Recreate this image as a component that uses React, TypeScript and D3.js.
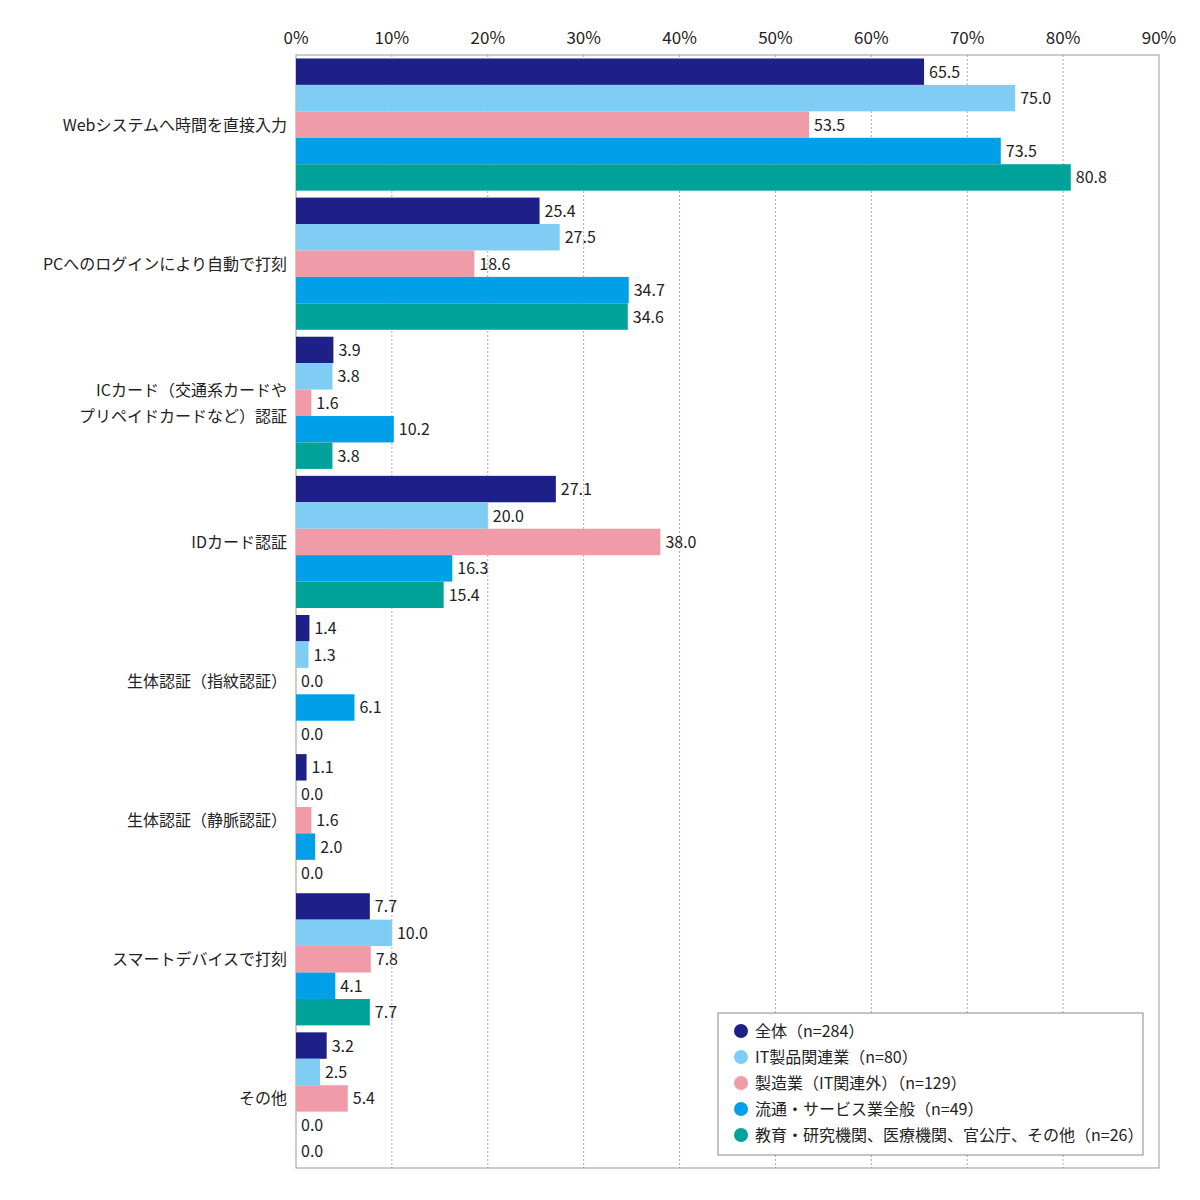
import * as d3 from "d3";

const categories = [
  ["Webシステムへ時間を直接入力"],
  ["PCへのログインにより自動で打刻"],
  ["ICカード（交通系カードや", "プリペイドカードなど）認証"],
  ["IDカード認証"],
  ["生体認証（指紋認証）"],
  ["生体認証（静脈認証）"],
  ["スマートデバイスで打刻"],
  ["その他"],
];
const seriesNames = [
  "全体（n=284）",
  "IT製品関連業（n=80）",
  "製造業（IT関連外）（n=129）",
  "流通・サービス業全般（n=49）",
  "教育・研究機関、医療機関、官公庁、その他（n=26）",
];
const colors = ["#1d2087", "#7fccf4", "#f09ca8", "#00a0e9", "#00a29a"];
const values = [
  [65.5, 25.4, 3.9, 27.1, 1.4, 1.1, 7.7, 3.2],
  [75.0, 27.5, 3.8, 20.0, 1.3, 0.0, 10.0, 2.5],
  [53.5, 18.6, 1.6, 38.0, 0.0, 1.6, 7.8, 5.4],
  [73.5, 34.7, 10.2, 16.3, 6.1, 2.0, 4.1, 0.0],
  [80.8, 34.6, 3.8, 15.4, 0.0, 0.0, 7.7, 0.0],
];
const ticks = [0, 10, 20, 30, 40, 50, 60, 70, 80, 90];

export default function App() {
  const left = 296, right = 1159, top = 55, bottom = 1168;
  const x = d3.scaleLinear().domain([0, 90]).range([left, right]);
  const y = d3.scaleBand().domain(categories.map((_, i) => String(i))).range([top, bottom]).paddingInner(0.05).paddingOuter(0.025);
  const inner = d3.scaleBand().domain(seriesNames.map((_, i) => String(i))).range([0, y.bandwidth()]);
  const font = "'Noto Sans CJK JP', 'Noto Sans', sans-serif";
  return (
    <svg width={1200} height={1200} style={{ position: "absolute", left: 0, top: 0 }} fontFamily={font}>
      <rect width={1200} height={1200} fill="#fff" />
      {ticks.map((t) => (
        <g key={t}>
          {t > 0 && t < 90 && (
            <line x1={x(t)} x2={x(t)} y1={top} y2={bottom} stroke="#aaa" strokeDasharray="2,2" />
          )}
          <text x={x(t)} y={44} textAnchor="middle" fontSize={17} fill="#222">{t}%</text>
        </g>
      ))}
      <rect x={left} y={top} width={right - left} height={bottom - top} fill="none" stroke="#999" />
      {categories.map((lines, ci) => {
        const cy = (y(String(ci)) as number) + y.bandwidth() / 2;
        return (
          <text key={ci} x={287} y={cy - (lines.length - 1) * 13 + 6} textAnchor="end" fontSize={16} fill="#222">
            {lines.map((l, k) => (
              <tspan key={k} x={287} dy={k === 0 ? 0 : 26}>{l}</tspan>
            ))}
          </text>
        );
      })}
      {values.map((row, si) =>
        row.map((v, ci) => {
          const by = (y(String(ci)) as number) + (inner(String(si)) as number);
          const h = inner.bandwidth();
          return (
            <g key={`${si}-${ci}`}>
              <rect x={left} y={by} width={x(v) - left} height={h} fill={colors[si]} />
              <text x={x(v) + 5} y={by + h / 2 + 6} fontSize={16} fill="#222">{v.toFixed(1)}</text>
            </g>
          );
        })
      )}
      <rect x={718} y={1013} width={425} height={142} fill="#fff" stroke="#888" />
      {seriesNames.map((n, i) => (
        <g key={n}>
          <circle cx={741} cy={1031 + i * 26} r={7} fill={colors[i]} />
          <text x={755} y={1037 + i * 26} fontSize={16} fill="#222">{n}</text>
        </g>
      ))}
    </svg>
  );
}
